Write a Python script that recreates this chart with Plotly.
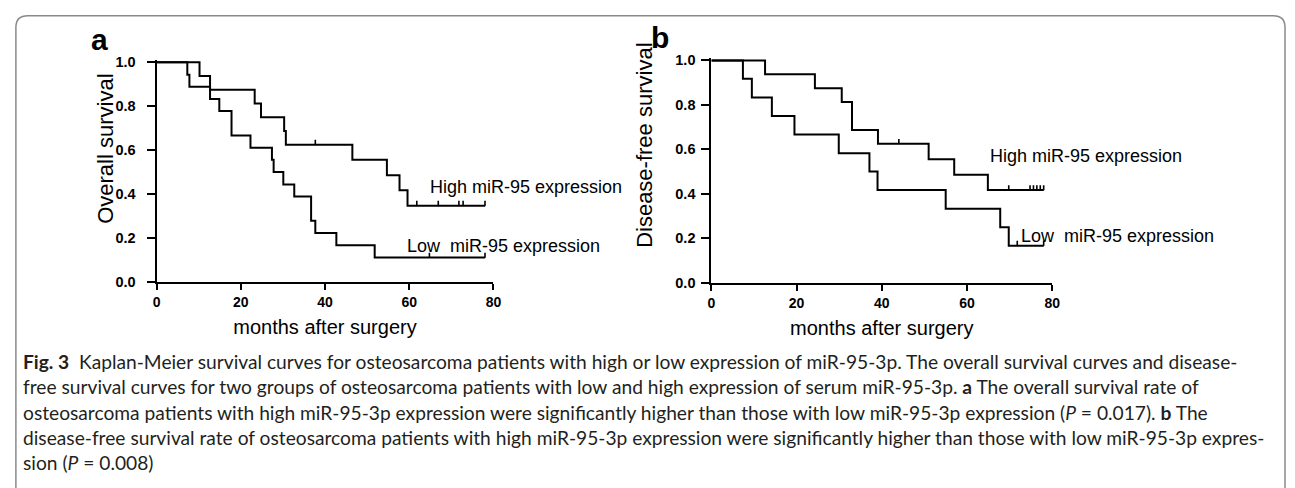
import plotly.graph_objects as go

W, H = 1295, 488

# ---------------- data (months, survival proportion) ----------------
# Panel a: overall survival
os_high_t = [0, 10.2, 12.7, 23.3, 24.8, 30.3, 30.7, 46.5, 54.7, 57.7, 59.6, 78.0]
os_high_s = [1.0, 0.9375, 0.875, 0.8125, 0.75, 0.6875, 0.625, 0.556, 0.486, 0.417, 0.347, 0.347]
os_high_cens_t = [37.7, 61.8, 66.9, 71.8, 72.8, 78.0]
os_high_cens_s = [0.625, 0.347, 0.347, 0.347, 0.347, 0.347]

os_low_t = [0, 7.3, 7.8, 12.7, 14.9, 17.8, 22.3, 27.4, 27.8, 30.1, 32.7, 36.7, 37.7, 42.7, 51.8, 78.0]
os_low_s = [1.0, 0.944, 0.889, 0.833, 0.778, 0.667, 0.611, 0.556, 0.5, 0.444, 0.389, 0.278, 0.222, 0.167, 0.111, 0.111]
os_low_cens_t = [64.8, 78.0]
os_low_cens_s = [0.111, 0.111]

# Panel b: disease-free survival
dfs_high_t = [0, 12.6, 24.3, 30.6, 33.0, 39.1, 51.0, 57.0, 64.9, 78.0]
dfs_high_s = [1.0, 0.9375, 0.875, 0.8125, 0.6875, 0.625, 0.556, 0.486, 0.417, 0.417]
dfs_high_cens_t = [44.0, 69.8, 74.8, 75.6, 76.4, 77.2, 78.0]
dfs_high_cens_s = [0.625, 0.417, 0.417, 0.417, 0.417, 0.417, 0.417]

dfs_low_t = [0, 7.4, 9.5, 14.2, 19.5, 29.9, 37.1, 39.0, 55.0, 67.8, 69.8, 78.0]
dfs_low_s = [1.0, 0.917, 0.833, 0.75, 0.667, 0.583, 0.5, 0.417, 0.333, 0.25, 0.167, 0.167]
dfs_low_cens_t = [71.8, 78.0]
dfs_low_cens_s = [0.167, 0.167]

x_ticks = [0, 20, 40, 60, 80]
y_ticks = [0.0, 0.2, 0.4, 0.6, 0.8, 1.0]

NB = "\u00a0"
caption_lines = [
    "<b>Fig. 3</b>" + NB + " Kaplan-Meier survival curves for osteosarcoma patients with high or low expression of miR-95-3p. The overall survival curves and disease-",
    "free survival curves for two groups of osteosarcoma patients with low and high expression of serum miR-95-3p. <b>a</b> The overall survival rate of",
    "osteosarcoma patients with high miR-95-3p expression were significantly higher than those with low miR-95-3p expression (<i>P</i> = 0.017). <b>b</b> The",
    "disease-free survival rate of osteosarcoma patients with high miR-95-3p expression were significantly higher than those with low miR-95-3p expres-",
    "sion (<i>P</i> = 0.008)",
]

# ---------------- helpers ----------------
def px(x):
    return x / W

def py(y):
    return 1 - y / H

ARIAL = "Liberation Sans, Arial, Helvetica, sans-serif"

fig = go.Figure()

def add_curve(t, s, ct, cs, xa, ya):
    fig.add_trace(go.Scatter(
        x=t, y=s, mode="lines", xaxis=xa, yaxis=ya,
        line=dict(shape="hv", color="black", width=2),
        showlegend=False, hoverinfo="skip"))
    fig.add_trace(go.Scatter(
        x=ct, y=cs, mode="markers", xaxis=xa, yaxis=ya,
        marker=dict(size=1, color="black"),
        error_y=dict(type="constant", value=0.022, symmetric=False, valueminus=0,
                     thickness=1.6, width=0, color="black"),
        cliponaxis=False, showlegend=False, hoverinfo="skip"))

add_curve(os_high_t, os_high_s, os_high_cens_t, os_high_cens_s, "x", "y")
add_curve(os_low_t, os_low_s, os_low_cens_t, os_low_cens_s, "x", "y")
add_curve(dfs_high_t, dfs_high_s, dfs_high_cens_t, dfs_high_cens_s, "x2", "y2")
add_curve(dfs_low_t, dfs_low_s, dfs_low_cens_t, dfs_low_cens_s, "x2", "y2")

YMAX = 1.01

def xaxis_cfg(x0, x1):
    return dict(
        domain=[px(x0), px(x1)], range=[0, 80], tickvals=x_ticks,
        showline=True, linecolor="black", linewidth=2, mirror=False,
        ticks="outside", ticklen=6, tickwidth=2, tickcolor="black",
        tickfont=dict(family=ARIAL, size=14, color="black", weight="bold"),
        showgrid=False, zeroline=False, fixedrange=True,
        title=dict(text="months after surgery",
                   font=dict(family=ARIAL, size=20, color="black"), standoff=11),
    )

def yaxis_cfg(y0px, y1px, standoff):
    # y0px: pixel of value 0, y1px: pixel of value 1.0
    per = y0px - y1px
    top = y0px - per * YMAX
    return dict(
        domain=[py(y0px), py(top)], range=[0, YMAX], tickvals=y_ticks, tickformat=".1f",
        showline=True, linecolor="black", linewidth=2,
        ticks="outside", ticklen=8, tickwidth=2, tickcolor="black",
        ticklabelstandoff=standoff,
        tickfont=dict(family=ARIAL, size=14.5, color="black", weight="bold"),
        showgrid=False, zeroline=False, fixedrange=True,
    )

fig.update_layout(
    width=W, height=H,
    margin=dict(l=0, r=0, t=0, b=0),
    paper_bgcolor="white", plot_bgcolor="white",
    xaxis=dict(xaxis_cfg(154, 494), anchor="y"),
    yaxis=dict(yaxis_cfg(284, 58, 8), anchor="x"),
    xaxis2=dict(xaxis_cfg(714, 1058), anchor="y2"),
    yaxis2=dict(yaxis_cfg(285, 56, 3), anchor="x2"),
    showlegend=False,
)

ann = []
# curve labels (data coordinates)
lab_font = dict(family=ARIAL, size=18, color="black")
ann.append(dict(text="High miR-95 expression", x=64.5, y=0.434, xref="x", yref="y",
                xanchor="left", yanchor="middle", showarrow=False, font=lab_font))
ann.append(dict(text="Low" + NB + " miR-95 expression", x=59.1, y=0.164, xref="x", yref="y",
                xanchor="left", yanchor="middle", showarrow=False, font=lab_font))
ann.append(dict(text="High miR-95 expression", x=64.9, y=0.568, xref="x2", yref="y2",
                xanchor="left", yanchor="middle", showarrow=False, font=lab_font))
ann.append(dict(text="Low" + NB + " miR-95 expression", x=72.3, y=0.21, xref="x2", yref="y2",
                xanchor="left", yanchor="middle", showarrow=False, font=lab_font))

# y-axis titles
ann.append(dict(text="Overall survival", x=px(103), y=py(147), xref="paper", yref="paper",
                xanchor="center", yanchor="middle", textangle=-90, showarrow=False,
                font=dict(family=ARIAL, size=22, color="black")))
ann.append(dict(text="Disease-free survival", x=px(647), y=py(144), xref="paper", yref="paper",
                xanchor="center", yanchor="middle", textangle=-90, showarrow=False,
                font=dict(family=ARIAL, size=22, color="black")))

# panel letters
ann.append(dict(text="<b>a</b>", x=px(96), y=py(35), xref="paper", yref="paper",
                xanchor="center", yanchor="middle", showarrow=False,
                font=dict(family=ARIAL, size=30, color="black")))
ann.append(dict(text="<b>b</b>", x=px(662), y=py(32), xref="paper", yref="paper",
                xanchor="center", yanchor="middle", showarrow=False,
                font=dict(family=ARIAL, size=30, color="black")))

# caption
cap_y = [366, 392, 418, 444, 470]
for line, yy in zip(caption_lines, cap_y):
    ann.append(dict(text=line, x=px(17), y=py(yy), xref="paper", yref="paper",
                    xanchor="left", yanchor="middle", showarrow=False,
                    font=dict(family="Lato, Open Sans, sans-serif", size=19.2, color="#231f20")))

fig.update_layout(annotations=ann)

# rounded frame around the figure
r = 12
L, T, R, B = 12, 10, 1293, 520
path = (f"M {px(L)},{py(B)} L {px(L)},{py(T + r)} Q {px(L)},{py(T)} {px(L + r)},{py(T)} "
        f"L {px(R - r)},{py(T)} Q {px(R)},{py(T)} {px(R)},{py(T + r)} L {px(R)},{py(B)}")
fig.add_shape(type="path", path=path, xref="paper", yref="paper",
              line=dict(color="#8a8a8a", width=1.5), layer="below")

fig.write_html(
    "out.html",
    config={"displayModeBar": False},
    post_script="document.body.style.margin='0';document.body.style.overflow='hidden';",
)
